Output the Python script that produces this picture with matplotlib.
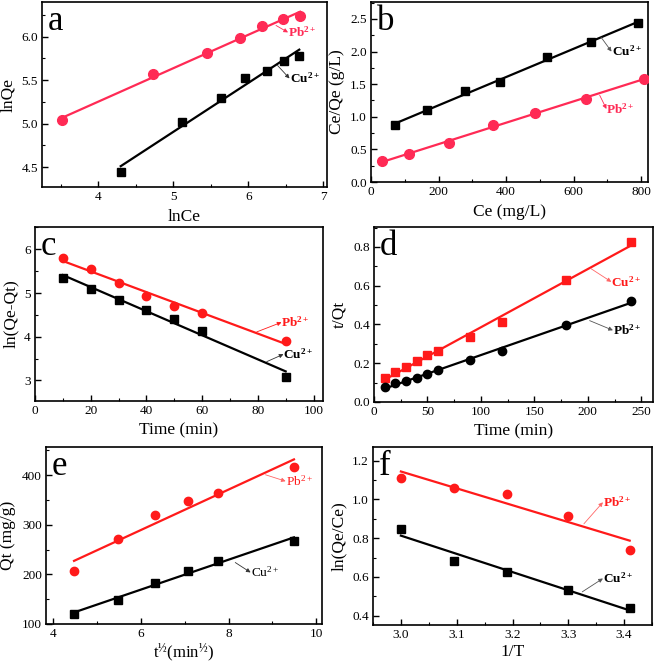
import numpy as np
import matplotlib
matplotlib.use('Agg')
import matplotlib.pyplot as plt
from matplotlib.ticker import MultipleLocator, AutoMinorLocator

plt.rcParams['font.family'] = ['Liberation Serif', 'DejaVu Serif']
plt.rcParams['mathtext.fontset'] = 'custom'
plt.rcParams['mathtext.rm'] = 'Liberation Serif'
plt.rcParams['mathtext.it'] = 'Liberation Serif:italic'
plt.rcParams['mathtext.bf'] = 'Liberation Serif:bold'

# panel a: Freundlich
a_pb_x = [3.52, 4.73, 5.45, 5.89, 6.18, 6.46, 6.69]
a_pb_y = [5.04, 5.57, 5.81, 5.98, 6.12, 6.21, 6.24]
a_cu_x = [4.30, 5.11, 5.63, 5.96, 6.25, 6.48, 6.68]
a_cu_y = [4.44, 5.02, 5.29, 5.52, 5.61, 5.72, 5.78]

# panel b: Langmuir
b_cu_x = [72, 165, 277, 383, 520, 650, 790]
b_cu_y = [0.87, 1.10, 1.39, 1.54, 1.91, 2.14, 2.44]
b_pb_x = [33, 113, 230, 360, 485, 635, 808]
b_pb_y = [0.32, 0.43, 0.60, 0.87, 1.06, 1.28, 1.58]

# panel c: pseudo first order
c_t = [10, 20, 30, 40, 50, 60, 90]
c_pb = [5.79, 5.56, 5.24, 4.93, 4.70, 4.54, 3.91]
c_cu = [5.35, 5.09, 4.85, 4.62, 4.40, 4.14, 3.09]

# panel d: pseudo second order
d_t = [10, 20, 30, 40, 50, 60, 90, 120, 180, 240]
d_cu = [0.123, 0.155, 0.182, 0.210, 0.241, 0.263, 0.335, 0.413, 0.627, 0.826]
d_pb = [0.075, 0.100, 0.110, 0.124, 0.143, 0.163, 0.219, 0.263, 0.395, 0.522]

# panel e: intraparticle diffusion
e_x = [4.47, 5.48, 6.32, 7.07, 7.75, 9.49]
e_pb = [207, 271, 319, 348, 364, 416]
e_cu = [121, 148, 183, 207, 228, 268]

# panel f: van't Hoff
f_x = [3.00, 3.095, 3.19, 3.30, 3.41]
f_pb = [1.109, 1.060, 1.029, 0.914, 0.741]
f_cu = [0.849, 0.683, 0.623, 0.535, 0.439]

W, H = 658, 664
fig = plt.figure(figsize=(W / 100, H / 100), dpi=100)


def make_ax(l, t, r, b):
    ax = fig.add_axes([l / W, 1 - b / H, (r - l) / W, (b - t) / H])
    for s in ax.spines.values():
        s.set_linewidth(1.2)
    ax.tick_params(direction='in', which='both', labelsize=9.5, pad=3)
    ax.tick_params(which='major', length=4, width=1)
    ax.tick_params(which='minor', length=2.5, width=0.8)
    ax.xaxis.set_minor_locator(AutoMinorLocator(2))
    ax.yaxis.set_minor_locator(AutoMinorLocator(2))
    return ax


def series(ax, x, y, color, marker, ms):
    x = np.array(x, dtype=float)
    k, c0 = np.polyfit(x, y, 1)  # linear fit line
    xx = np.array([x.min(), x.max()])
    ax.plot(xx, k * xx + c0, color=color, lw=1.6, zorder=2)
    ax.plot(x, y, ls='none', marker=marker, ms=ms, color=color, zorder=3)


def label(ax, txt, xy, xytext, color, bold=True, arrow='k'):
    t = r'$\mathbf{%s^{2+}}$' % txt if bold else r'$\mathrm{%s^{2+}}$' % txt
    ax.annotate(t, xy=xytext, xytext=xytext, color=color, fontsize=9.5,
                va='center', ha='left')
    ax.annotate('', xy=xytext, xytext=xy,
                arrowprops=dict(arrowstyle='-|>', color=arrow, lw=0.6,
                                mutation_scale=6, shrinkA=0, shrinkB=0))


def letter(ax, s):
    ax.text(0.02, 0.985, s, transform=ax.transAxes, fontsize=25,
            va='top', ha='left')


pink = '#FF2A55'
red = '#FF1A1A'

# a
ax = make_ax(42, 2, 327, 187)
series(ax, a_pb_x, a_pb_y, pink, 'o', 7)
series(ax, a_cu_x, a_cu_y, 'black', 's', 6)
ax.set_xlim(3.25, 7.05)
ax.set_ylim(4.27, 6.40)
ax.xaxis.set_major_locator(MultipleLocator(1))
ax.yaxis.set_major_locator(MultipleLocator(0.5))
ax.yaxis.set_major_formatter('{x:.1f}')
ax.set_xlabel('lnCe', fontsize=12.5)
ax.set_ylabel('lnQe', fontsize=12.5)
label(ax, 'Pb', (6.37, 6.13), (6.53, 6.05), pink, arrow=pink)
label(ax, 'Cu', (6.39, 5.67), (6.55, 5.52), 'black', arrow='#333333')
letter(ax, 'a')

# b
ax = make_ax(371, 2, 648, 182)
series(ax, b_cu_x, b_cu_y, 'black', 's', 6)
series(ax, b_pb_x, b_pb_y, pink, 'o', 7)
ax.set_xlim(0, 820)
ax.set_ylim(0, 2.76)
ax.xaxis.set_major_locator(MultipleLocator(200))
ax.yaxis.set_major_locator(MultipleLocator(0.5))
ax.yaxis.set_major_formatter('{x:.1f}')
ax.set_xlabel('Ce (mg/L)', fontsize=12.5)
ax.set_ylabel('Ce/Qe (g/L)', fontsize=12.5)
label(ax, 'Cu', (681, 2.22), (712, 2.00), 'black', arrow='#555555')
label(ax, 'Pb', (677, 1.33), (697, 1.12), pink, arrow=pink)
letter(ax, 'b')

# c
ax = make_ax(35, 227, 323, 401)
series(ax, c_t, c_pb, red, 'o', 6)
series(ax, c_t, c_cu, 'black', 's', 5.5)
ax.set_xlim(0, 103.4)
ax.set_ylim(2.53, 6.51)
ax.xaxis.set_major_locator(MultipleLocator(20))
ax.yaxis.set_major_locator(MultipleLocator(1))
ax.set_xlabel('Time (min)', fontsize=12.5)
ax.set_ylabel('ln(Qe-Qt)', fontsize=12.5)
label(ax, 'Pb', (79.6, 4.11), (88.5, 4.33), red, arrow=red)
label(ax, 'Cu', (83.2, 3.43), (89.2, 3.60), 'black', arrow='#333333')
letter(ax, 'c')

# d
ax = make_ax(374, 227, 653, 402)
series(ax, d_t, d_cu, red, 's', 5.5)
series(ax, d_t, d_pb, 'black', 'o', 6)
ax.set_xlim(0, 261)
ax.set_ylim(0, 0.903)
ax.xaxis.set_major_locator(MultipleLocator(50))
ax.yaxis.set_major_locator(MultipleLocator(0.2))
ax.yaxis.set_major_formatter('{x:.1f}')
ax.set_xlabel('Time (min)', fontsize=12.5)
ax.set_ylabel('t/Qt', fontsize=12.5)
label(ax, 'Cu', (203, 0.688), (222, 0.62), red, arrow='#FF6666')
label(ax, 'Pb', (201.7, 0.42), (223.5, 0.37), 'black', arrow='#555555')
letter(ax, 'd')

# e
ax = make_ax(46, 447, 322, 624)
series(ax, e_x, e_pb, red, 'o', 6)
series(ax, e_x, e_cu, 'black', 's', 5.5)
ax.set_xlim(3.83, 10.13)
ax.set_ylim(100, 457)
ax.xaxis.set_major_locator(MultipleLocator(2))
ax.yaxis.set_major_locator(MultipleLocator(100))
ax.set_xlabel(r't$^{½}$(min$^{½}$)', fontsize=12, labelpad=1)
ax.set_ylabel('Qt (mg/g)', fontsize=12.5)
label(ax, 'Pb', (8.84, 401), (9.3, 388), red, bold=False, arrow='#FF6666')
label(ax, 'Cu', (8.15, 224), (8.5, 204), 'black', bold=False, arrow='#333333')
letter(ax, 'e')

# f
ax = make_ax(373, 447, 652, 625)
series(ax, f_x, f_pb, red, 'o', 6)
series(ax, f_x, f_cu, 'black', 's', 5.5)
ax.set_xlim(2.95, 3.45)
ax.set_ylim(0.352, 1.27)
ax.xaxis.set_major_locator(MultipleLocator(0.1))
ax.xaxis.set_major_formatter('{x:.1f}')
ax.yaxis.set_major_locator(MultipleLocator(0.2))
ax.yaxis.set_major_formatter('{x:.1f}')
ax.set_xlabel('1/T', fontsize=12.5, labelpad=2)
ax.set_ylabel('ln(Qe/Ce)', fontsize=12.5)
label(ax, 'Pb', (3.328, 0.874), (3.362, 0.985), red, arrow='#FF6666')
label(ax, 'Cu', (3.325, 0.523), (3.362, 0.592), 'black', arrow='#555555')
letter(ax, 'f')

fig.savefig('out.png', dpi=100)
